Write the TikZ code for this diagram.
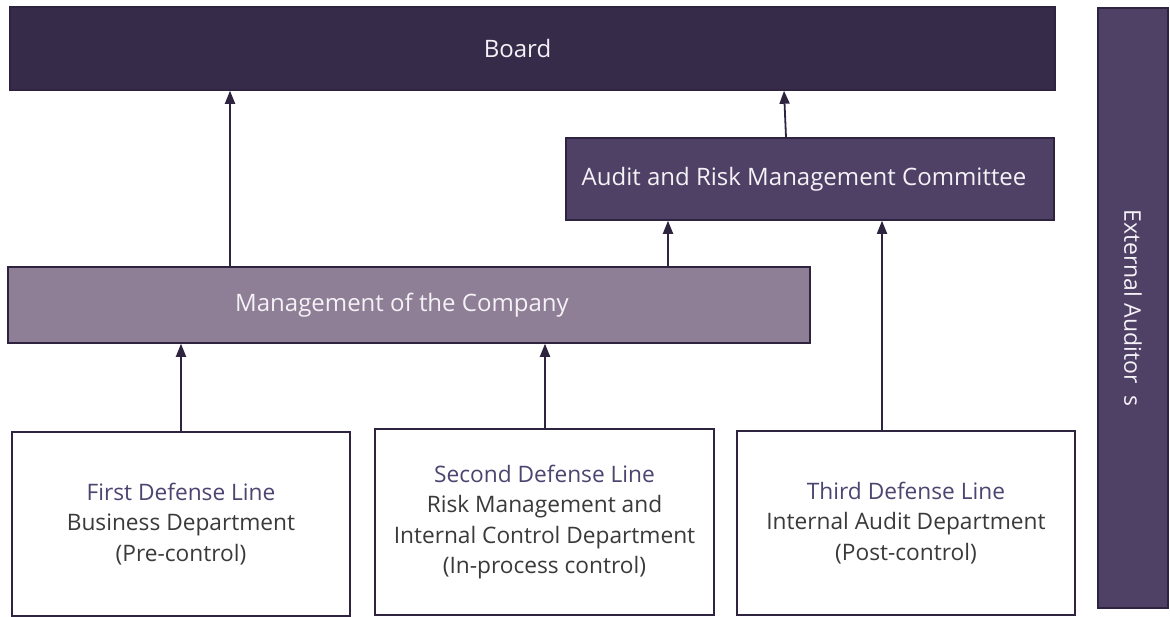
\documentclass[tikz,border=0pt]{standalone}
\usepackage{fontspec}
\setmainfont{Open Sans}
\usetikzlibrary{arrows.meta}
\definecolor{boardc}{HTML}{372B4A}
\definecolor{auditc}{HTML}{4F4065}
\definecolor{mgmtc}{HTML}{8E7E96}
\definecolor{edgec}{HTML}{2E2440}
\definecolor{txtc}{HTML}{4E4470}
\definecolor{greyc}{HTML}{3A3A3A}
\definecolor{softwhite}{HTML}{F4F2F6}
\tikzset{
  box/.style={draw=edgec, line width=1.5pt, rectangle, inner sep=0pt, font=\fontsize{24}{28}\selectfont},
  darkbox/.style={box, fill=boardc, text=softwhite},
  midbox/.style={box, fill=auditc, text=softwhite},
  lightbox/.style={box, fill=mgmtc, text=softwhite},
  linebox/.style={box, fill=white, text=greyc, align=center, font=\fontsize{22.7}{30.5}\selectfont},
  arr/.style={draw=edgec, line width=1.8pt, -{Triangle[length=13pt,width=10pt]}}
}
\begin{document}
\begin{tikzpicture}[x=1pt,y=-1pt]
\useasboundingbox (0,0) rectangle (1170,616);
\node[darkbox, minimum width=1045pt, minimum height=83pt] (board) at (532.5,48.5) {\hspace*{-30pt}Board};
\node[midbox, minimum width=488pt, minimum height=82pt] (arc) at (810,179) {\hspace*{-12pt}Audit and Risk Management Committee};
\node[lightbox, minimum width=802pt, minimum height=76pt] (mgmt) at (409,305) {\hspace*{-14pt}Management of the Company};
\node[midbox, minimum width=70pt, minimum height=600pt] (ext) at (1133,308) {};
\node[text=softwhite, rotate=-90, font=\fontsize{23}{28}\selectfont] (extt) at (ext.center) {External Auditor\ \ s};
\node[linebox, minimum width=338pt, minimum height=184pt] (first) at (181,524) {\textcolor{txtc}{First Defense Line}\\Business Department\\(Pre-control)};
\node[linebox, minimum width=339pt, minimum height=186pt] (second) at (544.5,522) {\textcolor{txtc}{Second Defense Line}\\Risk Management and\\Internal Control Department\\(In-process control)};
\node[linebox, minimum width=338pt, minimum height=184pt] (third) at (906,523) {\textcolor{txtc}{Third Defense Line}\\Internal Audit Department\\(Post-control)};
\draw[arr] (mgmt.north -| 230,0) -- (board.south -| 230,0);
\draw[arr] (arc.north -| 786,0) -- (board.south -| 784,0);
\draw[arr] (mgmt.north -| 668,0) -- (arc.south -| 668,0);
\draw[arr] (first.north -| 181,0) -- (mgmt.south -| 181,0);
\draw[arr] (second.north -| 545,0) -- (mgmt.south -| 545,0);
\draw[arr] (third.north -| 882,0) -- (arc.south -| 882,0);
\end{tikzpicture}
\end{document}
